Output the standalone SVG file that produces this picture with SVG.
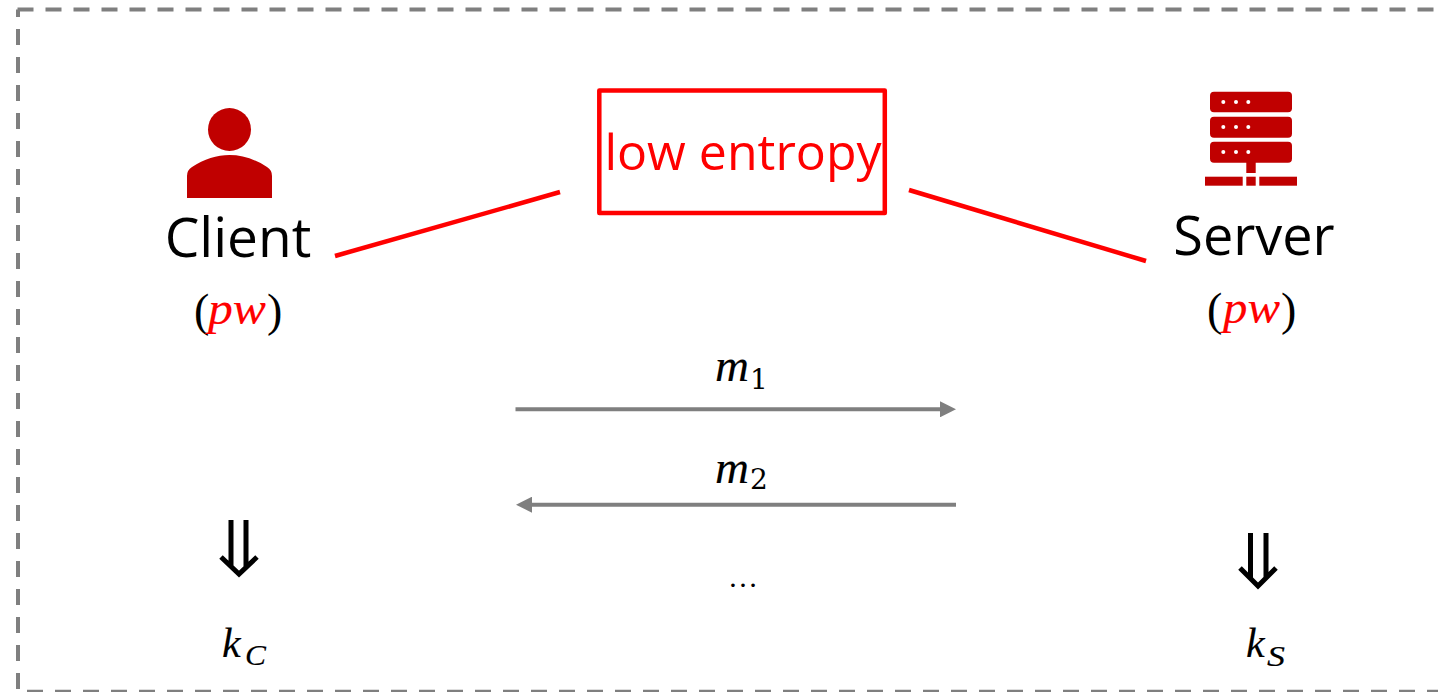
<svg xmlns="http://www.w3.org/2000/svg" width="1438" height="692" viewBox="0 0 1438 692">
<style>
.sans{font-family:"Open Sans","Noto Sans","Liberation Sans",sans-serif}
.math{font-family:"Liberation Serif",serif;font-style:italic;fill:#000;stroke:#000;stroke-width:.15}
.up{font-family:"Liberation Serif",serif;fill:#000}
.digit{font-family:"DejaVu Serif",serif;fill:#000}
.pw{font-family:"Liberation Serif",serif;font-style:italic;fill:#ff0000;stroke:#ff0000;stroke-width:.15}
.icon{fill:#c00000}
.frame{fill:none;stroke:#7f7f7f;stroke-width:4;stroke-dasharray:16 12}
.red{stroke:#ff0000;stroke-width:4.500;fill:none;stroke-linejoin:round}
.arrow{stroke:#7f7f7f;stroke-width:4;fill:none}
.dbl{stroke:#000;fill:none;stroke-width:5}
</style>
<defs>
<marker id="head" markerUnits="userSpaceOnUse" markerWidth="16" markerHeight="16" refX="6" refY="8" orient="auto"><path d="M0 0L16 8L0 16Z" fill="#7f7f7f"/></marker>
</defs>
<g id="frame">
<path class="frame" d="M17.500 9.500H1438"/>
<path class="frame" stroke-dashoffset="8.500" d="M18 9.500V690"/>
<path class="frame" d="M27 691.700H1438"/>
</g>
<g id="connectors">
<path class="red" d="M335 256L560 192"/>
<path class="red" d="M909 190L1146 261"/>
<path class="arrow" marker-end="url(#head)" d="M515.500 409.300H946"/>
<path class="arrow" marker-end="url(#head)" d="M956 504.700H526"/>
</g>
<g id="client">
<circle class="icon" cx="229.500" cy="129.500" r="21.500"/>
<path class="icon" d="M187 198V176Q187 170 192 167C204 159 217 155 229.500 155C242 155 255 159 267 167Q272 170 272 176V198Z"/>
<text class="sans" x="238" y="257" font-size="55" text-anchor="middle">Client</text>
<text class="up" x="194" y="326" font-size="46">(</text>
<text class="pw" x="208" y="324" font-size="46" textLength="58" lengthAdjust="spacingAndGlyphs">pw</text>
<text class="up" x="267" y="326" font-size="46">)</text>
</g>
<g id="low-entropy">
<rect x="599.300" y="90.500" width="285.500" height="122.500" class="red"/>
<text class="sans" x="743" y="170" font-size="50" fill="#ff0000" text-anchor="middle">low entropy</text>
</g>
<g id="server">
<rect class="icon" x="1210" y="91.700" width="82" height="20.600" rx="4"/>
<rect class="icon" x="1210" y="116.700" width="82" height="21" rx="4"/>
<rect class="icon" x="1210" y="141.700" width="82" height="21" rx="4"/>
<g fill="#fff">
<circle cx="1223.300" cy="102" r="2"/><circle cx="1236" cy="102" r="2"/><circle cx="1248.300" cy="102" r="2"/>
<circle cx="1223.300" cy="127" r="2"/><circle cx="1236" cy="127" r="2"/><circle cx="1248.300" cy="127" r="2"/>
<circle cx="1223.300" cy="152" r="2"/><circle cx="1236" cy="152" r="2"/><circle cx="1248.300" cy="152" r="2"/>
</g>
<rect class="icon" x="1246.300" y="162" width="9.400" height="11"/>
<rect class="icon" x="1205" y="176.700" width="37.700" height="9"/>
<rect class="icon" x="1246.300" y="176.700" width="9.400" height="9"/>
<rect class="icon" x="1259.300" y="176.700" width="37.700" height="9"/>
<text class="sans" x="1254" y="255" font-size="54" text-anchor="middle">Server</text>
<text class="up" x="1207" y="325" font-size="46">(</text>
<text class="pw" x="1223" y="323" font-size="46" textLength="57" lengthAdjust="spacingAndGlyphs">pw</text>
<text class="up" x="1281" y="325" font-size="46">)</text>
</g>
<g id="labels">
<text class="math" x="715" y="381" font-size="46" textLength="34" lengthAdjust="spacingAndGlyphs">m</text>
<text class="digit" x="750" y="389" font-size="28">1</text>
<text class="math" x="715" y="483" font-size="46" textLength="34" lengthAdjust="spacingAndGlyphs">m</text>
<text class="digit" x="750" y="489" font-size="28">2</text>
<text class="up" x="743" y="587" font-size="30" text-anchor="middle">…</text>
</g>
<g id="client-key">
<path class="dbl" d="M231 520V567M246 520V567M221 557L239 574L257 557"/>
<text class="math" x="222" y="657" font-size="42">k</text>
<text class="math" x="245" y="665" font-size="30" textLength="21" lengthAdjust="spacingAndGlyphs">C</text>
</g>
<g id="server-key">
<path class="dbl" d="M1250.500 533V579M1266 533V579M1240 568L1258 586L1276 568"/>
<text class="math" x="1246" y="657" font-size="42">k</text>
<text class="math" x="1267" y="665.500" font-size="30" textLength="18" lengthAdjust="spacingAndGlyphs">S</text>
</g>
</svg>
